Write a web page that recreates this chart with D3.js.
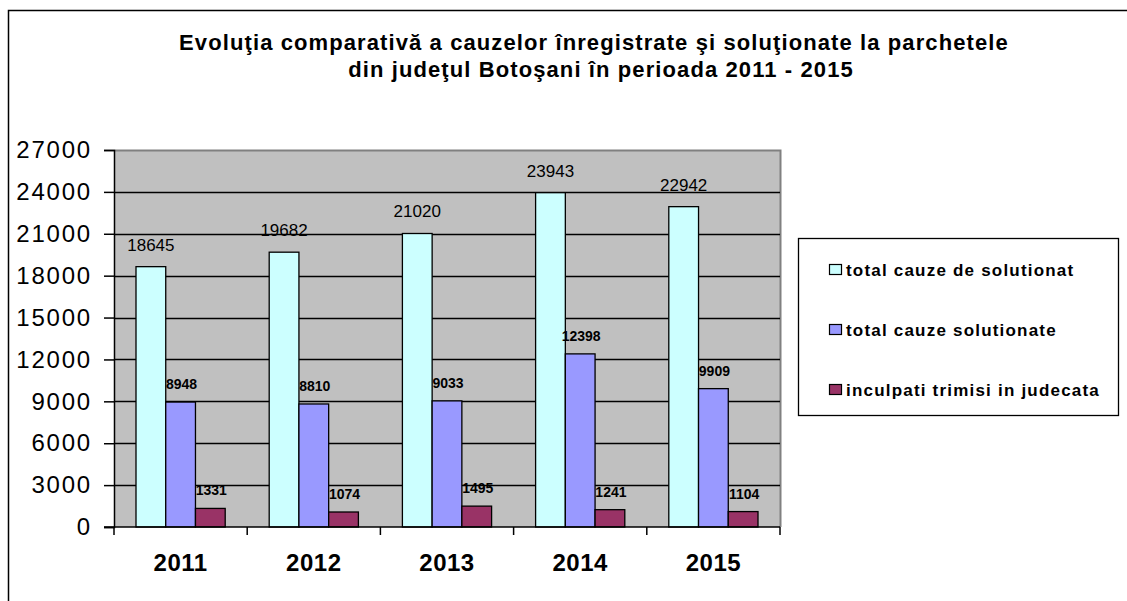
<!DOCTYPE html>
<html lang="ro">
<head>
<meta charset="UTF-8">
<title>Evolutia cauzelor - Botosani 2011-2015</title>
<script src="https://d3js.org/d3.v7.min.js"></script>
<style>
  body { margin:0; background:#fff; }
  svg { display:block; font-family: Arial, "Liberation Sans", sans-serif; }
</style>
</head>
<body>
<svg id="chart" width="1127" height="601"></svg>
<script>
  // data
  var years = ["2011", "2012", "2013", "2014", "2015"];
  var seriesNames = ["total cauze de solutionat", "total cauze solutionate", "inculpati trimisi in judecata"];
  var deSolutionat = [18645, 19682, 21020, 23943, 22942];
  var solutionate = [8948, 8810, 9033, 12398, 9909];
  var trimisi = [1331, 1074, 1495, 1241, 1104];
  var yTicks = [0, 3000, 6000, 9000, 12000, 15000, 18000, 21000, 24000, 27000];
  var colors = ["#CCFFFF", "#9999FF", "#993366"];

  var svg = d3.select("#chart");

  // outer frame (runs off the right and bottom)
  svg.append("rect")
    .attr("x", 8.5).attr("y", 10.5)
    .attr("width", 1140).attr("height", 620)
    .attr("fill", "#fff").attr("stroke", "#000").attr("stroke-width", 1.5);

  // title
  var title = svg.append("text")
    .attr("text-anchor", "middle")
    .style("font-weight", "bold").style("font-size", "22px")
    .style("letter-spacing", "1.1px");
  title.append("tspan").attr("x", 594).attr("y", 50)
    .text("Evoluţia comparativă a cauzelor înregistrate şi soluţionate la parchetele");
  title.append("tspan").attr("x", 601).attr("y", 77)
    .text("din judeţul Botoşani în perioada 2011 - 2015");

  var pLeft = 114, pRight = 780, pTop = 150, pBottom = 527;

  var x = d3.scaleBand().domain(years).range([pLeft, pRight]).paddingInner(0).paddingOuter(0);
  var x1 = d3.scaleBand().domain(d3.range(3)).range([22, x.bandwidth() - 22]).padding(0);
  var y = d3.scaleLinear().domain([0, 27000]).range([pBottom, pTop]);

  // plot area
  svg.append("rect")
    .attr("x", pLeft).attr("y", pTop)
    .attr("width", pRight - pLeft).attr("height", pBottom - pTop)
    .attr("fill", "#C0C0C0");
  svg.append("path")
    .attr("d", "M" + pLeft + "," + (pTop + 0.5) + "H" + (pRight + 0.5) + "V" + pBottom)
    .attr("fill", "none").attr("stroke", "#808080").attr("stroke-width", 2);

  // gridlines
  svg.append("g").selectAll("line")
    .data(yTicks.slice(1, -1))
    .join("line")
      .attr("x1", pLeft).attr("x2", pRight)
      .attr("y1", function(d) { return Math.round(y(d)) + 0.5; })
      .attr("y2", function(d) { return Math.round(y(d)) + 0.5; })
      .attr("stroke", "#000").attr("stroke-width", 1.3);

  // bars
  var rows = years.map(function(yr, i) {
    return { year: yr, vals: [deSolutionat[i], solutionate[i], trimisi[i]] };
  });

  var groups = svg.append("g").selectAll("g")
    .data(rows)
    .join("g")
      .attr("transform", function(d) { return "translate(" + x(d.year) + ",0)"; });

  groups.selectAll("rect")
    .data(function(d) { return d.vals; })
    .join("rect")
      .attr("x", function(d, i) { return x1(i); })
      .attr("y", function(d) { return y(d); })
      .attr("width", x1.bandwidth())
      .attr("height", function(d) { return pBottom - y(d); })
      .attr("fill", function(d, i) { return colors[i]; })
      .attr("stroke", "#000").attr("stroke-width", 1.3);

  groups.selectAll("text")
    .data(function(d) { return d.vals; })
    .join("text")
      .attr("text-anchor", "middle")
      .attr("x", function(d, i) { return x1(i) + x1.bandwidth() / 2 + (i === 0 ? 0 : 1); })
      .attr("y", function(d, i) { return y(d) - (i === 0 ? 16 : 13); })
      .style("font-size", function(d, i) { return i === 0 ? "17px" : "14px"; })
      .style("font-weight", function(d, i) { return i === 0 ? "normal" : "bold"; })
      .text(function(d) { return d; });

  // axes
  var yAxis = svg.append("g")
    .attr("transform", "translate(" + pLeft + ",0)")
    .call(d3.axisLeft(y).tickValues(yTicks).tickSize(10).tickPadding(12).tickFormat(d3.format("d")));
  yAxis.select(".domain").attr("stroke-width", 1.5);
  yAxis.selectAll("line").attr("stroke-width", 1.5);
  yAxis.selectAll("text")
    .style("font-size", "24px").style("letter-spacing", "1.8px")
    .style("font-family", "Arial, 'Liberation Sans', sans-serif");

  var xAxis = svg.append("g")
    .attr("transform", "translate(0," + pBottom + ")");
  xAxis.append("line")
    .attr("x1", pLeft - 10).attr("x2", pRight).attr("stroke", "#000").attr("stroke-width", 1.5);
  xAxis.selectAll(".tk")
    .data(years.map(function(d) { return x(d); }).concat([pRight]))
    .join("line")
      .attr("class", "tk")
      .attr("x1", function(d) { return d; }).attr("x2", function(d) { return d; })
      .attr("y1", 0).attr("y2", 8)
      .attr("stroke", "#000").attr("stroke-width", 1.5);
  xAxis.selectAll("text")
    .data(years)
    .join("text")
      .attr("text-anchor", "middle")
      .attr("x", function(d) { return x(d) + x.bandwidth() / 2; })
      .attr("y", 44)
      .style("font-size", "24px").style("font-weight", "bold").style("letter-spacing", "0.5px")
      .text(function(d) { return d; });

  // legend
  svg.append("rect")
    .attr("x", 798.5).attr("y", 238.5).attr("width", 320).attr("height", 177)
    .attr("fill", "#fff").attr("stroke", "#000").attr("stroke-width", 1.3);
  var leg = svg.append("g").selectAll("g")
    .data(seriesNames)
    .join("g")
      .attr("transform", function(d, i) { return "translate(829," + (270 + i * 60) + ")"; });
  leg.append("rect")
    .attr("x", 0.5).attr("y", -5.5).attr("width", 12).attr("height", 10)
    .attr("fill", function(d, i) { return colors[i]; })
    .attr("stroke", "#000").attr("stroke-width", 1.2);
  leg.append("text")
    .attr("x", 17).attr("y", 6)
    .style("font-size", "17px").style("font-weight", "bold").style("letter-spacing", "1.2px")
    .text(function(d) { return d; });
</script>
</body>
</html>
